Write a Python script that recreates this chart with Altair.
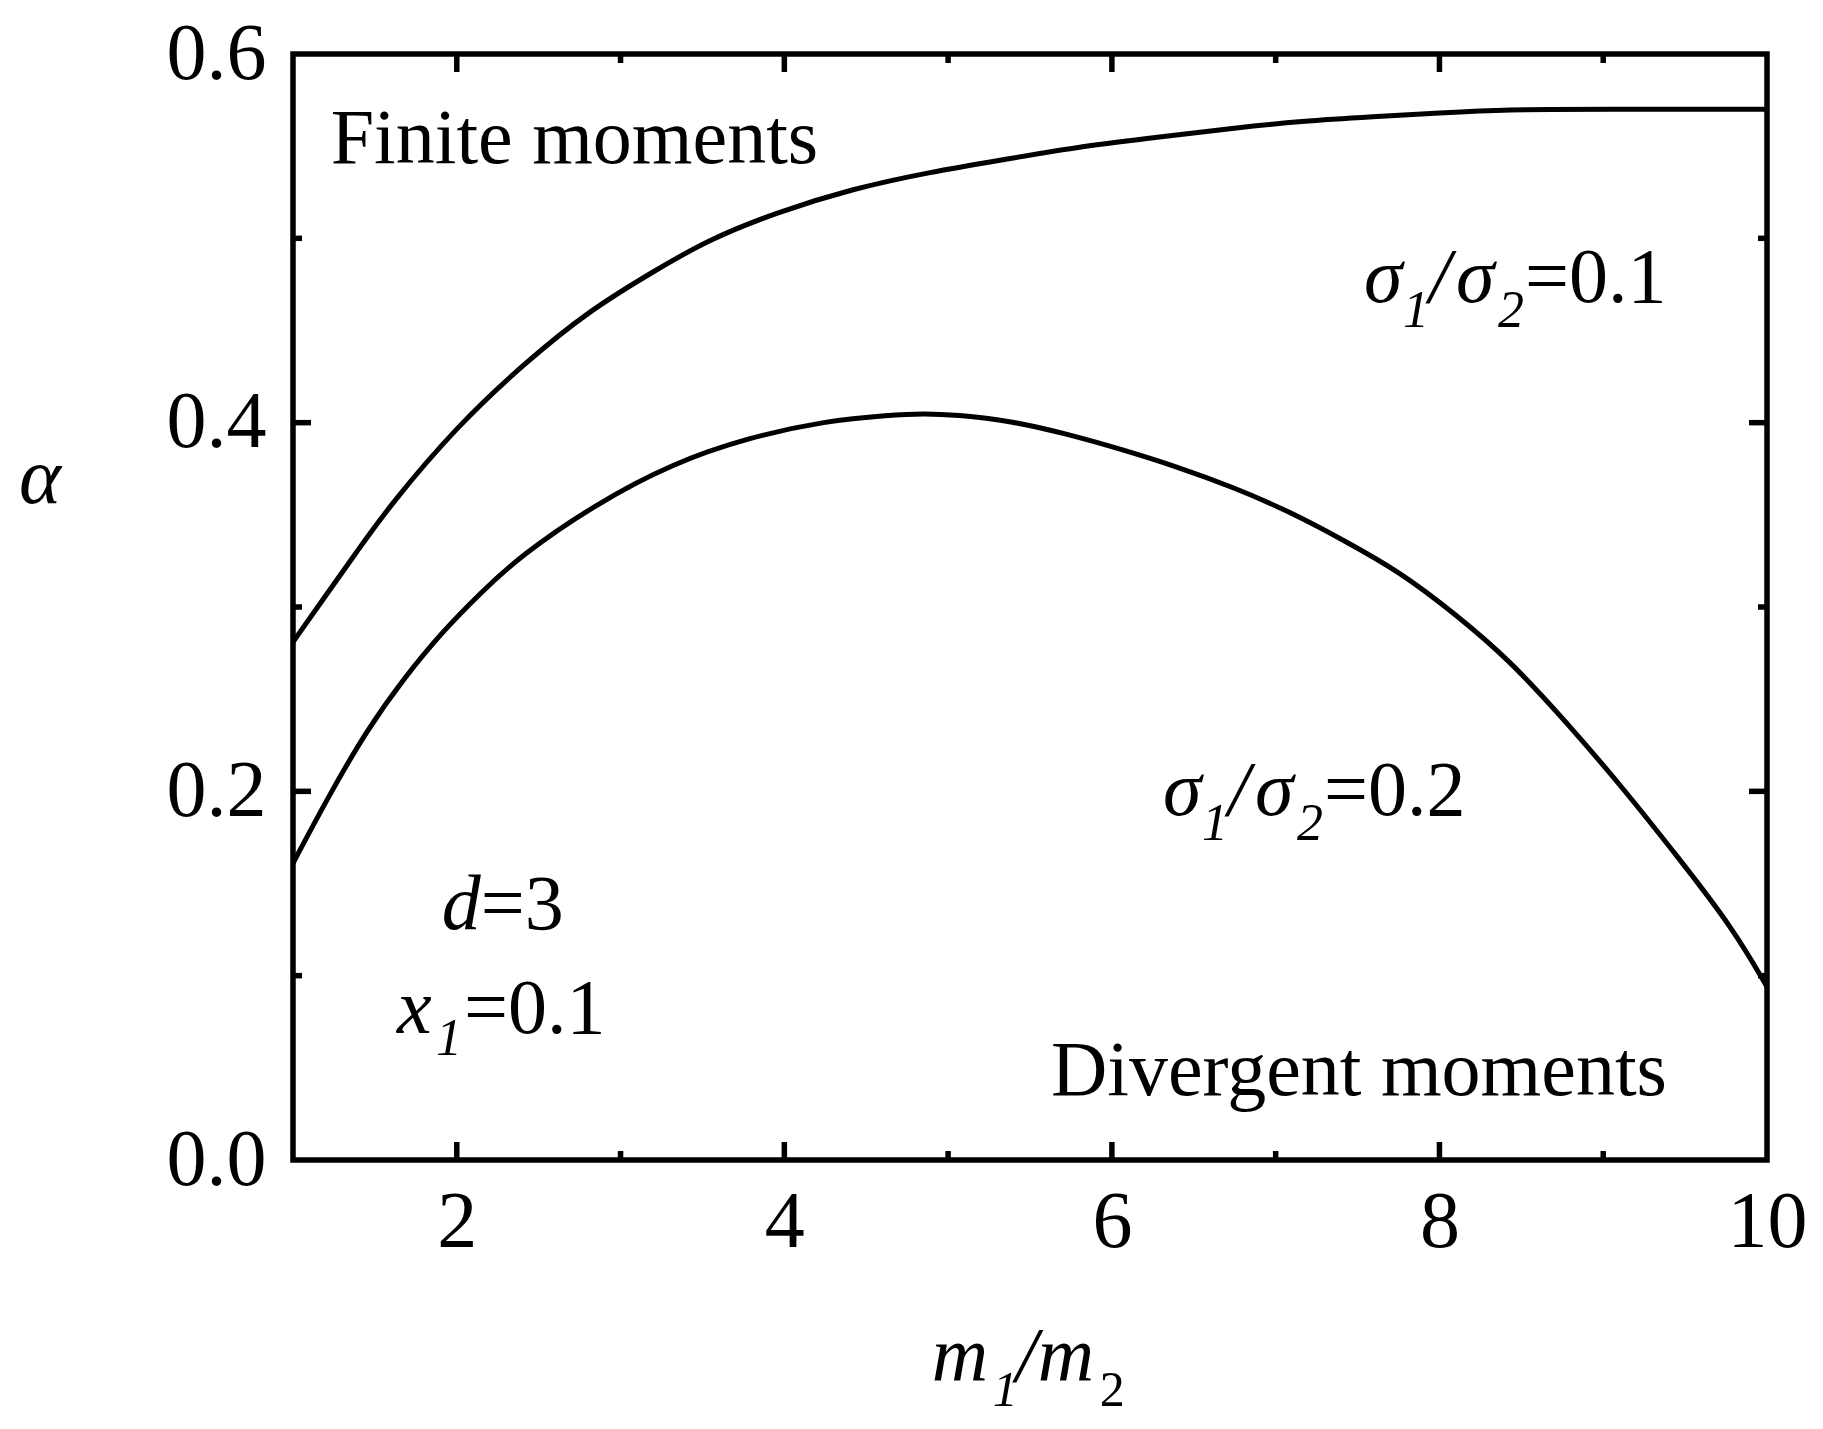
import altair as alt
import pandas as pd

# ---------------- data ----------------
upper_x = [1.0, 1.19, 1.39, 1.59, 2.0, 2.41, 2.81, 3.22, 3.53, 3.95, 4.42, 4.89,
           5.36, 5.82, 6.29, 6.76, 7.15, 7.6, 8.0, 8.4, 9.0, 10.0]
upper_a = [0.281, 0.305, 0.330, 0.355, 0.398, 0.432, 0.461, 0.483, 0.499, 0.514, 0.527, 0.536,
           0.543, 0.550, 0.555, 0.560, 0.5635, 0.566, 0.568, 0.570, 0.570, 0.570]

lower_x = [1.0, 1.215, 1.449, 1.683, 1.916, 2.15, 2.384, 2.85, 3.318, 3.784, 4.253, 4.645,
           4.85, 5.045, 5.384, 5.72, 6.06, 6.40, 6.74, 7.08, 7.42, 7.76, 8.10, 8.43, 8.77,
           9.11, 9.45, 9.79, 10.0]
lower_a = [0.161, 0.197, 0.233, 0.262, 0.287, 0.308, 0.3275, 0.356, 0.378, 0.392, 0.401, 0.4042,
           0.4050, 0.4043, 0.401, 0.394, 0.3855, 0.376, 0.365, 0.352, 0.336, 0.319, 0.296, 0.271,
           0.238, 0.203, 0.165, 0.126, 0.094]

series_names = ["sigma 0.1", "sigma 0.2"]

x_tick_labels = [2, 4, 6, 8, 10]
y_tick_labels = [0.0, 0.2, 0.4, 0.6]
x_major = [2, 4, 6, 8]
x_minor = [3, 5, 7, 9]
y_major = [0.2, 0.4]
y_minor = [0.1, 0.3, 0.5]

label_names = ["finite", "divergent", "d", "x1", "s01", "s02"]
label_x = [1.230, 5.628, 1.9085, 1.635, 7.539, 6.312]
label_y = [0.541, 0.0353, 0.1254, 0.0689, 0.4657, 0.1872]

# ---------------- layout / style ----------------
W, H = 1474, 1106
FONT = "Liberation Serif"
FS = 78
SUB = 52
LW = 5.5

xs = alt.Scale(domain=[1, 10], nice=False, zero=False)
ys = alt.Scale(domain=[0, 0.6], nice=False, zero=False)

axis_common = dict(
    title="", grid=False, domain=False, ticks=False, tickSize=0,
    labelFont=FONT, labelFontSize=80, labelColor="black",
    labelFlush=False, labelOverlap=False,
)
x_axis = alt.Axis(values=x_tick_labels, format="d", labelPadding=23, **axis_common)
y_axis = alt.Axis(values=y_tick_labels, format=".1f", labelPadding=27, **axis_common)


def X():
    return alt.X("x:Q", scale=xs, axis=x_axis)


def Y():
    return alt.Y("a:Q", scale=ys, axis=y_axis)


curves = pd.DataFrame({
    "x": upper_x + lower_x,
    "a": upper_a + lower_a,
    "s": [series_names[0]] * len(upper_x) + [series_names[1]] * len(lower_x),
})

lines = alt.Chart(curves).mark_line(color="black", strokeWidth=5, interpolate="basis").encode(
    x=X(), y=Y(), detail="s:N",
)

layers = [lines]


def xticks(vals, length):
    df = pd.DataFrame({"x": vals})
    base = alt.Chart(df).mark_rule(color="black", strokeWidth=LW)
    return [
        base.encode(x=X(), y=alt.value(H), y2=alt.value(H - length)),
        base.encode(x=X(), y=alt.value(0), y2=alt.value(length)),
    ]


def yticks(vals, length):
    df = pd.DataFrame({"a": vals})
    base = alt.Chart(df).mark_rule(color="black", strokeWidth=LW)
    return [
        base.encode(y=Y(), x=alt.value(0), x2=alt.value(length)),
        base.encode(y=Y(), x=alt.value(W), x2=alt.value(W - length)),
    ]


layers += xticks(x_major, 18) + xticks(x_minor, 9) + yticks(y_major, 18) + yticks(y_minor, 9)

ann = pd.DataFrame({"x": label_x, "a": label_y, "name": label_names})

# (label, text, dx, dy, size, style)
pieces = [
    ("finite", "Finite moments", 0, 0, FS, "normal"),
    ("divergent", "Divergent moments", 0, 0, FS, "normal"),
    ("d", "d", 0, 0, FS, "italic"),
    ("d", "=3", 39, 0, FS, "normal"),
    ("x1", "x", 0, 0, FS, "italic"),
    ("x1", "1", 39, 22, SUB, "italic"),
    ("x1", "=0.1", 67, 0, FS, "normal"),
]
for nm, val in (("s01", "=0.1"), ("s02", "=0.2")):
    pieces += [
        (nm, "σ", 0, 0, FS, "italic"),
        (nm, "1", 39, 25, SUB, "italic"),
        (nm, "/", 65, 0, FS, "italic"),
        (nm, "σ", 92, 0, FS, "italic"),
        (nm, "2", 134, 25, SUB, "italic"),
        (nm, val, 161, 0, FS, "normal"),
    ]

for nm, txt, dx, dy, size, style in pieces:
    layers.append(
        alt.Chart(ann).transform_filter(alt.datum.name == nm).mark_text(
            text=txt, dx=dx, dy=dy, fontSize=size, fontStyle=style, font=FONT,
            align="left", baseline="alphabetic", color="black",
        ).encode(x=X(), y=Y())
    )

# axis titles (composed so subscripts can be drawn)
dummy = pd.DataFrame({"k": [0]})
XT_X, XT_Y = 638.7, 1327.2
title_pieces = [
    ("m", 0, 0, FS, "italic"),
    ("1", 61, 25, 50, "italic"),
    ("/", 84, 0, FS, "italic"),
    ("m", 106, 0, FS, "italic"),
    ("2", 168, 25, 50, "normal"),
]
for txt, dx, dy, size, style in title_pieces:
    layers.append(
        alt.Chart(dummy).mark_text(
            text=txt, fontSize=size, fontStyle=style, font=FONT,
            align="left", baseline="alphabetic", color="black",
        ).encode(x=alt.value(XT_X + dx), y=alt.value(XT_Y + dy))
    )

layers.append(
    alt.Chart(dummy).mark_text(
        text="α", fontSize=80, fontStyle="italic", font=FONT,
        align="center", baseline="alphabetic", color="black",
    ).encode(x=alt.value(-253), y=alt.value(448.5))
)

chart = alt.layer(*layers).properties(
    width=W, height=H,
    autosize=alt.AutoSizeParams(type="none"),
    padding={"left": 285, "top": 46, "right": 40, "bottom": 260},
    background="white",
).configure_view(stroke="black", strokeWidth=LW)

chart.save("out.html", embed_options={"renderer": "svg", "actions": False})
